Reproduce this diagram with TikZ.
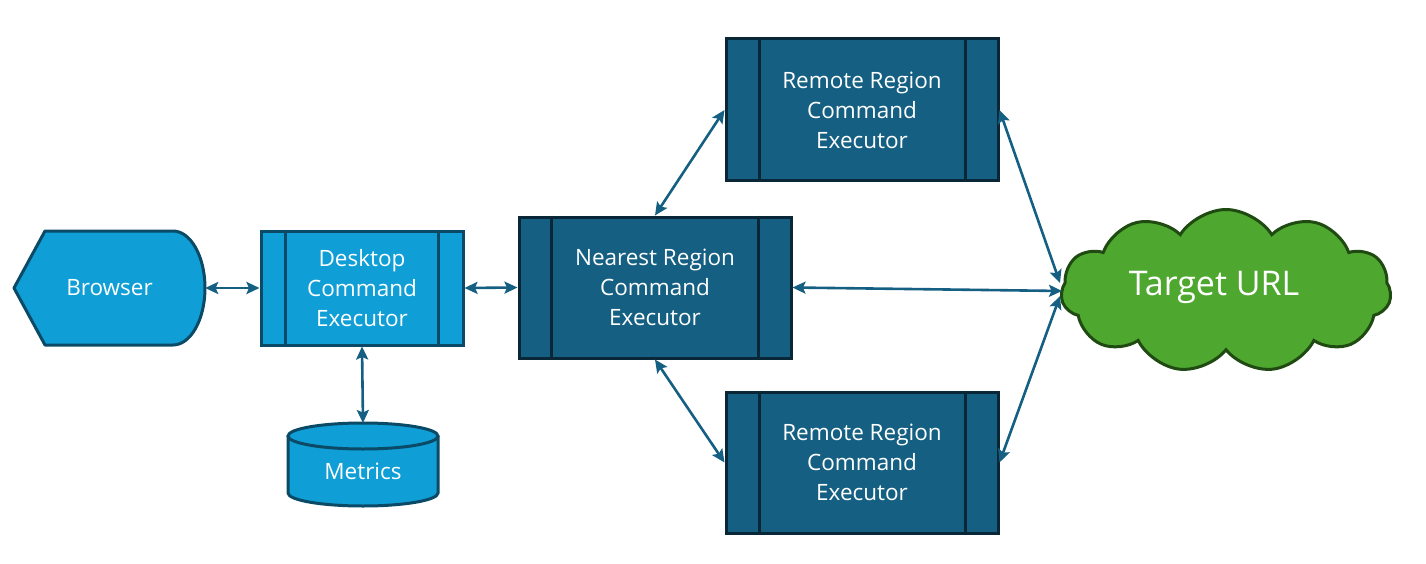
\documentclass[tikz,border=0pt]{standalone}
\usepackage{fontspec}
\setmainfont{Open Sans}
\usetikzlibrary{arrows.meta,shapes.symbols,calc}
\definecolor{lblue}{HTML}{0F9ED5}
\definecolor{lborder}{HTML}{0B4A66}
\definecolor{dblue}{HTML}{156082}
\definecolor{dborder}{HTML}{0A2738}
\definecolor{arr}{HTML}{156082}
\definecolor{cgreen}{HTML}{4EA72E}
\definecolor{cborder}{HTML}{1F4A12}
\tikzset{
  lightshape/.style={fill=lblue,draw=lborder,line width=3pt},
  boxfont/.style={font=\fontsize{22.5}{30}\selectfont},
  darkbox/.style={rectangle,fill=dblue,draw=dborder,line width=3pt,minimum width=272pt,text=white,boxfont,align=center,inner sep=0pt},
  lightbox/.style={rectangle,lightshape,text=white,boxfont,align=center,inner sep=0pt},
  conn/.style={draw=arr,line width=2.6pt,{Stealth[length=13pt,width=12pt,inset=2.5pt]}-{Stealth[length=13pt,width=12pt,inset=2.5pt]}},
}
\begin{document}
\begin{tikzpicture}[x=1pt,y=-1pt]
\useasboundingbox (0,0) rectangle (1426,564);
% Browser
\draw[lightshape,line join=round] (14,288) -- (45,231) -- (173,231) arc[start angle=90,end angle=-90,x radius=32,y radius=-57] -- (45,345) -- cycle;
\node[rectangle,minimum width=191pt,minimum height=114pt,inner sep=0pt,text=white,boxfont] (b) at (109.5,288) {Browser};
% Desktop
\node[lightbox,minimum width=202pt,minimum height=114pt] (d) at (362,288) {Desktop\\Command\\Executor};
\draw[lborder,line width=3pt] ([xshift=26pt]d.north west) -- ([xshift=26pt]d.south west);
\draw[lborder,line width=3pt] ([xshift=-26pt]d.north east) -- ([xshift=-26pt]d.south east);
% Metrics cylinder
\draw[lightshape] (288,436) -- (288,493) arc[start angle=180,end angle=360,x radius=75,y radius=-13] -- (438,436);
\draw[lightshape] (363,436) ellipse[x radius=75,y radius=13];
\coordinate (mtop) at (363,423);
\node[text=white,boxfont] (m) at (363,471) {Metrics};
% Nearest
\node[darkbox,minimum height=141pt] (n) at (655,287.5) {Nearest Region\\Command\\Executor};
\draw[dborder,line width=3pt] ([xshift=34pt]n.north west) -- ([xshift=34pt]n.south west);
\draw[dborder,line width=3pt] ([xshift=-34pt]n.north east) -- ([xshift=-34pt]n.south east);
% Remote top
\node[darkbox,minimum height=142pt] (rt) at (862,110) {Remote Region\\Command\\Executor};
\draw[dborder,line width=3pt] ([xshift=35pt]rt.north west) -- ([xshift=35pt]rt.south west);
\draw[dborder,line width=3pt] ([xshift=-34pt]rt.north east) -- ([xshift=-34pt]rt.south east);
% Remote bottom
\node[darkbox,minimum height=141pt] (rb) at (862,462.5) {Remote Region\\Command\\Executor};
\draw[dborder,line width=3pt] ([xshift=35pt]rb.north west) -- ([xshift=35pt]rb.south west);
\draw[dborder,line width=3pt] ([xshift=-34pt]rb.north east) -- ([xshift=-34pt]rb.south east);
% Cloud
\node[cloud,cloud puffs=11,cloud puff arc=115,aspect=2.05,fill=cgreen,draw=cborder,line width=3pt,minimum width=330pt,minimum height=163pt,inner sep=0pt] (c) at (1226,291) {};
\node[text=white,font=\fontsize{34}{40}\selectfont] (ct) at (1214,287) {Target URL};
\coordinate (c1) at (1060,283);
\coordinate (c2) at (1062,291);
\coordinate (c3) at (1060,296);
% Connectors
\draw[conn] (b.east) -- (d.west);
\draw[conn] (d.east) -- (n.west);
\draw[conn] (d.south) -- (mtop);
\draw[conn] (n.north) -- (rt.west);
\draw[conn] (n.south) -- (rb.west);
\draw[conn] (n.east) -- (c2);
\draw[conn] (rt.east) -- (c1);
\draw[conn] (rb.east) -- (c3);
\end{tikzpicture}
\end{document}
